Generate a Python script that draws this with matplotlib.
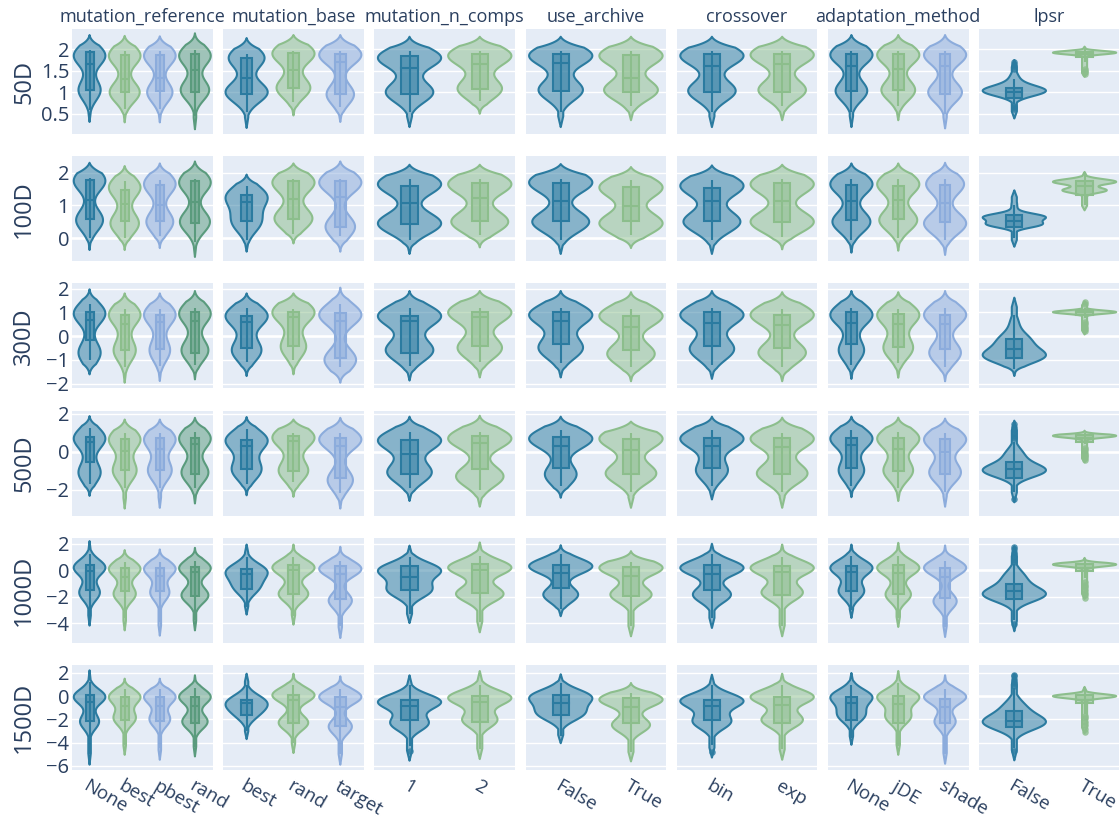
import numpy as np
import matplotlib
matplotlib.use("Agg")
import matplotlib.pyplot as plt
from matplotlib.patches import Polygon, Rectangle
from matplotlib.colors import to_rgba

DIMS = ["50D", "100D", "300D", "500D", "1000D", "1500D"]

# violin: (lo, whisker_lo, q1, median, q3, whisker_hi, hi, modes[, outliers])
# modes: (centre, relative height[, spread])
mutation_reference_levels = ["None", "best", "pbest", "rand"]
mutation_reference = [
    [(0.31, 0.58, 1.05, 1.65, 1.94, 1.98, 2.33, [(1.85, 1), (1.05, .7)]),
     (0.30, 0.62, 1.01, 1.31, 1.87, 1.95, 2.31, [(1.85, 1), (1.0, .95)]),
     (0.30, 0.62, 1.02, 1.32, 1.87, 1.95, 2.30, [(1.85, 1), (1.0, .8)]),
     (0.14, 0.45, 1.00, 1.52, 1.90, 1.98, 2.37, [(1.85, 1), (1.05, .9)])],
    [(-.36, 0.02, 0.60, 1.15, 1.77, 1.85, 2.30, [(1.75, 1), (.55, .85)]),
     (-.36, 0.00, 0.53, 1.03, 1.46, 1.75, 2.20, [(1.55, 1), (.45, .9)]),
     (-.30, 0.08, 0.53, 1.00, 1.61, 1.78, 2.28, [(1.65, 1), (.5, .85)]),
     (-.57, -.10, 0.45, 1.10, 1.73, 1.82, 2.34, [(1.7, 1), (.5, .95)])],
    [(-1.61, -1.0, -.18, .67, 1.01, 1.35, 1.97, [(.95, 1), (-.7, .7)]),
     (-1.96, -1.3, -.59, .50, 0.91, 1.15, 1.80, [(.9, 1), (-.6, .7)]),
     (-1.89, -1.25, -.53, .59, 0.91, 1.15, 1.80, [(.9, 1), (-.6, .65)]),
     (-1.82, -1.2, -.70, .63, 1.01, 1.20, 1.90, [(.95, 1), (-.6, .85)])],
    [(-2.33, -1.7, -.56, .49, .80, 1.25, 1.88, [(.7, 1), (-1.1, .7)]),
     (-3.00, -1.9, -.99, .05, .66, 1.00, 1.70, [(.65, 1), (-1.0, .75)]),
     (-2.96, -1.9, -.99, .14, .70, 1.00, 1.70, [(.65, 1), (-1.0, .75)]),
     (-2.73, -1.9, -1.17, .40, .75, 1.05, 1.79, [(.7, 1), (-1.1, .85)])],
    [(-4.19, -3.7, -1.46, -.08, .43, 1.2, 2.20, [(.2, 1), (-1.7, .65)]),
     (-4.55, -3.6, -1.59, -.50, .18, 0.6, 1.52, [(.1, 1), (-1.8, .7)]),
     (-4.95, -3.9, -1.59, -.45, .18, 0.6, 1.57, [(.1, 1), (-1.7, .6)]),
     (-4.55, -3.8, -1.92, -.15, .25, 0.7, 1.69, [(.15, 1), (-1.9, .85)])],
    [(-5.91, -5.0, -2.14, -.49, .09, 1.2, 2.23, [(-.06, 1), (-2.2, .6)]),
     (-5.06, -4.2, -2.06, -.83, -.06, .6, 1.51, [(-.06, 1), (-1.9, .7)]),
     (-5.49, -4.5, -2.11, -.83, -.06, .6, 1.51, [(-.06, 1), (-2.0, .65)]),
     (-5.20, -4.4, -2.34, -.83, -.06, .7, 1.80, [(-.06, 1), (-2.2, .8)])],
]

mutation_base_levels = ["best", "rand", "target"]
mutation_base = [
    [(0.17, 0.55, 0.97, 1.34, 1.80, 1.90, 2.26, [(1.8, .85), (1.0, 1)]),
     (0.46, 0.78, 1.09, 1.52, 1.92, 1.97, 2.33, [(1.9, 1), (1.1, .8)]),
     (0.31, 0.65, 0.95, 1.71, 1.90, 1.96, 2.33, [(1.87, 1), (.95, .65)])],
    [(-.41, -.05, .53, 1.10, 1.31, 1.58, 1.94, [(1.27, 1), (.5, .7)]),
     (-.16, 0.12, .60, 1.19, 1.73, 1.82, 2.28, [(1.7, 1), (.6, .9)]),
     (-.41, 0.06, .35, 1.26, 1.73, 1.82, 2.34, [(1.7, 1), (.35, .7)])],
    [(-1.68, -1.1, -.50, .60, .84, 1.20, 1.80, [(.85, 1), (-.6, .7)]),
     (-1.61, -1.0, -.43, .82, 1.01, 1.15, 1.80, [(1.0, 1), (-.45, .6)]),
     (-1.96, -1.3, -.94, .65, .97, 1.35, 2.04, [(.9, 1), (-1.0, .75)])],
    [(-2.30, -1.7, -.90, .28, .63, 1.2, 1.83, [(.6, 1), (-.95, .7)]),
     (-2.38, -1.6, -1.04, .57, .83, 1.0, 1.70, [(.75, 1), (-1.0, .7)]),
     (-3.00, -2.2, -1.39, .31, .75, 1.0, 1.79, [(.65, 1), (-1.5, .6)])],
    [(-3.36, -2.8, -1.41, -.25, .10, 1.0, 1.94, [(-.08, 1), (-1.3, .6)]),
     (-4.12, -3.5, -1.77, .05, .43, 1.0, 1.94, [(.2, 1), (-1.8, .7)]),
     (-5.13, -4.2, -2.17, -.25, .30, 0.7, 1.77, [(.1, 1), (-2.3, .55)])],
    [(-3.71, -3.0, -1.63, -.63, -.34, 1.0, 1.94, [(-.5, 1), (-1.5, .55)]),
     (-4.91, -4.0, -2.29, -.29, .09, 1.0, 1.94, [(.09, 1), (-2.29, .7)]),
     (-5.91, -5.0, -2.57, -.91, -.11, .6, 1.71, [(-.06, 1), (-2.63, .55)])],
]

mutation_n_comps_levels = ["1", "2"]
mutation_n_comps = [
    [(0.19, 0.55, 0.95, 1.57, 1.84, 1.95, 2.29, [(1.8, 1), (1.0, .75)]),
     (0.50, 0.80, 1.07, 1.65, 1.90, 1.95, 2.29, [(1.85, 1), (1.08, .7)])],
    [(-.48, -.05, .43, 1.06, 1.59, 1.82, 2.24, [(1.65, 1), (.45, 1)]),
     (-.28, 0.10, .53, 1.23, 1.68, 1.82, 2.24, [(1.65, 1), (.5, .9)])],
    [(-1.87, -1.25, -.73, .62, .83, 1.2, 1.9, [(.85, 1), (-.6, .75)]),
     (-1.74, -1.10, -.43, .80, 1.0, 1.2, 1.9, [(1.0, 1), (-.5, .7)])],
    [(-2.6, -1.9, -1.2, -.10, .60, 1.05, 1.85, [(.6, 1), (-1.1, .7)]),
     (-2.9, -2.0, -0.9, 0.45, .83, 1.05, 1.90, [(.7, 1), (-1.3, .75)])],
    [(-4.0, -3.3, -1.46, -.48, .28, 1.0, 1.86, [(0.0, 1), (-1.5, .7)]),
     (-4.7, -3.9, -1.70, 0.05, .50, 1.1, 2.10, [(.2, 1), (-1.8, .75)])],
    [(-5.57, -4.3, -2.06, -.86, -.29, 1.0, 1.80, [(-.49, 1), (-2.34, .6)], [-4.77]),
     (-5.43, -4.6, -2.20, -.49, 0.03, 1.0, 2.17, [(-.14, 1), (-2.06, .55)])],
]

use_archive_levels = ["False", "True"]
use_archive = [
    [(0.19, 0.55, 1.03, 1.67, 1.90, 1.95, 2.29, [(1.85, 1), (1.05, .7)]),
     (0.35, 0.68, 1.00, 1.32, 1.87, 1.95, 2.29, [(1.85, 1), (1.05, .85)])],
    [(-.48, -.05, .53, 1.14, 1.68, 1.82, 2.26, [(1.7, 1), (.5, .9)]),
     (-.30, 0.10, .53, 0.98, 1.56, 1.78, 2.17, [(1.55, 1), (.45, 1)])],
    [(-1.74, -1.15, -.35, .62, 1.0, 1.20, 1.90, [(.9, 1), (-.5, .7)]),
     (-1.90, -1.30, -.60, .37, .83, 1.15, 1.85, [(.85, 1), (-.75, .75)])],
    [(-2.43, -1.8, -.85, .30, .78, 1.15, 1.85, [(.69, 1), (-1.2, .5)]),
     (-2.96, -2.1, -1.15, .09, .69, 1.0, 1.59, [(.69, 1), (-1.15, .8)])],
    [(-3.48, -2.9, -1.34, -.20, .38, 1.2, 1.89, [(.3, 1), (-1.85, .55)]),
     (-5.00, -4.2, -1.97, -.45, .25, 0.6, 1.44, [(.18, 1), (-1.85, .65)])],
    [(-4.06, -3.4, -1.63, -.63, .09, 1.1, 1.89, [(-.06, 1), (-1.49, .75)]),
     (-5.63, -4.8, -2.34, -.91, -.20, 0.3, 1.14, [(-.29, 1), (-2.49, .6)])],
]

crossover_levels = ["bin", "exp"]
crossover = [
    [(0.19, 0.55, 1.00, 1.62, 1.90, 1.95, 2.29, [(1.85, 1), (1.03, .75)]),
     (0.35, 0.68, 1.01, 1.65, 1.90, 1.95, 2.29, [(1.87, 1), (1.05, .75)])],
    [(-.48, -.05, .53, 1.13, 1.54, 1.78, 2.22, [(1.6, 1), (.5, .9)]),
     (-.34, 0.05, .50, 1.14, 1.68, 1.82, 2.24, [(1.65, 1), (.5, 1)])],
    [(-1.8, -1.2, -.40, .55, 1.0, 1.20, 1.90, [(.9, 1), (-.55, .7)]),
     (-1.9, -1.3, -.50, .45, 0.9, 1.15, 1.85, [(.9, 1), (-.7, .75)])],
    [(-2.52, -1.8, -.85, .30, .74, 1.15, 1.85, [(.69, 1), (-1.0, .5)]),
     (-2.96, -2.1, -1.15, .25, .71, 1.0, 1.80, [(.69, 1), (-1.15, .8)])],
    [(-4.37, -3.6, -1.52, -.28, .38, 1.2, 2.00, [(.18, 1), (-1.85, .6)]),
     (-5.00, -4.2, -1.84, -.15, .30, 1.0, 1.94, [(.18, 1), (-1.7, .65)])],
    [(-5.30, -4.2, -2.06, -.86, -.29, 1.0, 1.85, [(-.4, 1), (-2.2, .6)], [-4.8]),
     (-5.49, -4.6, -2.29, -.77, -.06, 1.0, 1.94, [(-.06, 1), (-2.06, .65)])],
]

adaptation_method_levels = ["None", "jDE", "shade"]
adaptation_method = [
    [(0.19, 0.55, 1.03, 1.61, 1.89, 1.95, 2.33, [(1.87, 1), (1.03, .75)]),
     (0.35, 0.68, 1.06, 1.55, 1.90, 1.95, 2.33, [(1.87, 1), (1.05, .8)]),
     (0.16, 0.50, 0.97, 1.60, 1.90, 1.95, 2.33, [(1.87, 1), (1.0, .8)])],
    [(-.44, -.05, .55, 1.14, 1.61, 1.8, 2.28, [(1.65, 1), (.5, .9)]),
     (-.38, 0.00, .60, 1.16, 1.59, 1.8, 2.28, [(1.65, 1), (.55, .9)]),
     (-.51, -.05, .50, 1.06, 1.61, 1.8, 2.30, [(1.65, .9), (.45, 1)])],
    [(-1.80, -1.2, -.35, .55, 1.0, 1.20, 1.90, [(.9, 1), (-.6, .6)]),
     (-1.75, -1.15, -.45, .50, .95, 1.15, 1.85, [(.9, 1), (-.5, .7)]),
     (-1.90, -1.3, -.55, .50, .90, 1.20, 1.90, [(.9, 1), (-.7, .75)])],
    [(-2.4, -1.8, -.85, .35, .75, 1.15, 1.85, [(.7, 1), (-1.0, .6)]),
     (-2.6, -1.9, -1.0, .15, .70, 1.05, 1.80, [(.7, 1), (-1.0, .7)]),
     (-2.9, -2.1, -1.2, .00, .65, 1.00, 1.75, [(.65, 1), (-1.1, .75)])],
    [(-3.61, -3.0, -1.59, -.13, .35, 1.1, 1.94, [(.18, 1), (-1.6, .6)]),
     (-4.29, -3.6, -1.77, -.20, .43, 1.1, 2.07, [(.18, 1), (-1.84, .6)]),
     (-5.05, -4.3, -2.10, -.50, .18, 0.7, 1.87, [(.18, 1), (-2.35, .55)])],
    [(-4.20, -3.6, -2.06, -.63, -.06, 1.0, 2.00, [(-.06, 1), (-1.63, .65)]),
     (-5.06, -4.3, -2.29, -.69, 0.03, 1.1, 2.17, [(-.06, 1), (-1.77, .6)]),
     (-5.83, -5.0, -2.34, -.91, -.26, 0.6, 1.80, [(-.06, 1), (-2.2, .5)])],
]

lpsr_levels = ["False", "True"]
lpsr = [
    [(0.39, 0.72, 0.87, 1.00, 1.11, 1.30, 1.75, [(1.03, 1, .12), (1.3, .15, .15)],
      [.62, .65, .68, 1.55, 1.6, 1.65, 1.7]),
     (1.36, 1.70, 1.83, 1.90, 1.94, 2.00, 2.06, [(1.92, 1, .04)],
      [1.42, 1.46, 1.5, 1.55])],
    [(-.26, 0.00, 0.33, 0.53, 0.72, 1.00, 1.46, [(.65, 1, .1), (.42, .9, .1), (1.0, .1, .2)]),
     (0.85, 1.00, 1.31, 1.59, 1.74, 1.95, 2.02, [(1.72, 1, .08), (1.46, .7, .08)])],
    [(-1.68, -1.4, -.91, -.53, -.14, .9, 1.62, [(-.85, 1, .3), (-.2, .55, .35), (.6, .12, .3)]),
     (0.07, 0.75, 0.90, 1.00, 1.10, 1.2, 1.47, [(1.01, 1, .07)],
      [.2, .3, .4, .5, .6, 1.35, 1.45])],
    [(-2.67, -2.1, -1.40, -.91, -.53, .5, 1.64, [(-1.0, 1, .35), (-.2, .3, .4)],
      [.7, .85, 1.0, 1.15, 1.3, 1.45, -2.5]),
     (-.56, 0.40, 0.50, 0.70, 0.90, 1.0, 1.11, [(.84, 1, .1)],
      [-.45, -.35, -.25, -.15, -.05, .1, .2])],
    [(-4.62, -3.8, -2.17, -1.59, -1.01, .5, 1.82, [(-1.84, 1, .55), (-.6, .35, .6)],
      [.6, .8, 1.0, 1.2, 1.4, 1.6, 1.75, -4.1]),
     (-2.17, -0.6, -0.08, 0.18, 0.50, .8, 0.93, [(.43, 1, .15)],
      [-2.1, -1.9, -1.7, -1.5, -1.3, -1.1, -.9])],
    [(-5.54, -4.5, -2.63, -2.11, -1.26, .7, 1.89, [(-2.29, 1, .65), (-1.0, .35, .7)],
      [.9, 1.1, 1.3, 1.5, 1.7, 1.85, -4.77]),
     (-3.20, -1.5, -0.63, -0.29, 0.09, .6, 0.80, [(0.0, 1, .18)],
      [-3.1, -2.8, -2.5, -2.2, -1.9, -1.7])],
]

FACTORS = [
    ("mutation_reference", mutation_reference_levels, mutation_reference),
    ("mutation_base", mutation_base_levels, mutation_base),
    ("mutation_n_comps", mutation_n_comps_levels, mutation_n_comps),
    ("use_archive", use_archive_levels, use_archive),
    ("crossover", crossover_levels, crossover),
    ("adaptation_method", adaptation_method_levels, adaptation_method),
    ("lpsr", lpsr_levels, lpsr),
]

Y_RANGES = [(0.03, 2.47), (-0.70, 2.5), (-2.2, 2.22), (-3.37, 2.17), (-5.49, 2.45), (-6.37, 2.69)]
Y_TICKS = [[0.5, 1, 1.5, 2], [0, 1, 2], [-2, -1, 0, 1, 2], [-2, 0, 2], [-4, -2, 0, 2], [-6, -4, -2, 0, 2]]
BANDWIDTH = [0.24, 0.33, 0.46, 0.55, 0.6, 0.65]

COLORS = ["#2B7BA0", "#8CBE8C", "#8CACDC", "#5A9B7D"]
BG = "#E5ECF6"
TXT = "#2a3f5f"
FONT = ["Open Sans", "DejaVu Sans"]

W, H = 1119, 821
COL_LEFT, COL_STEP, COL_W = 72, 151.2, 140.5
ROW_TOP, ROW_STEP, ROW_H = 29, 127.2, 105

HALF = 0.45      # max half width of a violin, in category units
BOX_HALF = 0.115


def violin_profile(v, bw):
    lo, hi, modes = v[0], v[6], v[7]
    y = np.linspace(lo, hi, 300)
    d = np.zeros_like(y)
    for m in modes:
        s = m[2] if len(m) > 2 else bw
        d += m[1] * np.exp(-0.5 * ((y - m[0]) / s) ** 2)
    d /= d.max()
    t = 0.12 * (hi - lo)
    ramp = np.clip((y - lo) / t, 0, 1) * np.clip((hi - y) / t, 0, 1)
    return y, np.maximum(d, 0.08) * ramp


def draw_violin(ax, x, v, color, bw):
    lo, wlo, q1, med, q3, whi, hi = v[:7]
    y, d = violin_profile(v, bw)
    xs = np.concatenate([x - d * HALF, (x + d * HALF)[::-1]])
    ys = np.concatenate([y, y[::-1]])
    ax.add_patch(Polygon(np.column_stack([xs, ys]), closed=True,
                         facecolor=to_rgba(color, 0.5), edgecolor=color,
                         lw=1.5, joinstyle="round", zorder=2))
    ax.plot([x, x], [wlo, whi], color=color, lw=1.5, solid_capstyle="butt", zorder=3)
    ax.add_patch(Rectangle((x - BOX_HALF, q1), 2 * BOX_HALF, q3 - q1,
                           facecolor=to_rgba(color, 0.5), edgecolor=color, lw=1.5, zorder=4))
    ax.plot([x - BOX_HALF, x + BOX_HALF], [med, med], color=color, lw=1.5, zorder=5)
    if len(v) > 8:
        pts = v[8]
        ax.scatter([x] * len(pts), pts, s=22, color=color, alpha=0.8, lw=0, zorder=5)


def fmt(t):
    return f"{t:g}".replace("-", "\u2212")


fig = plt.figure(figsize=(W / 100, H / 100), dpi=100)
plt.rcParams["font.family"] = FONT

for r, dim in enumerate(DIMS):
    top = ROW_TOP + r * ROW_STEP
    for c, (name, levels, rows) in enumerate(FACTORS):
        left = COL_LEFT + c * COL_STEP
        ax = fig.add_axes([left / W, 1 - (top + ROW_H) / H, COL_W / W, ROW_H / H])
        ax.set_facecolor(BG)
        for s in ax.spines.values():
            s.set_visible(False)
        n = len(levels)
        ax.set_xlim(-0.5, n - 0.5)
        ax.set_ylim(*Y_RANGES[r])
        for t in Y_TICKS[r]:
            ax.axhline(t, color="white", lw=1.9 if t == 0 else 1.0, zorder=1)
        for i, v in enumerate(rows[r]):
            draw_violin(ax, i, v, COLORS[i], BANDWIDTH[r])
        ax.tick_params(length=0, colors=TXT)
        ax.set_yticks(Y_TICKS[r])
        if c == 0:
            ax.set_yticklabels([fmt(t) for t in Y_TICKS[r]], fontsize=14.5, color=TXT)
            ax.tick_params(axis="y", pad=2)
        else:
            ax.set_yticklabels([])
        ax.set_xticks(range(n))
        if r == len(DIMS) - 1:
            ax.set_xticklabels(levels, rotation=-30, ha="left", va="top",
                               rotation_mode="anchor", fontsize=13.5, color=TXT)
            ax.tick_params(axis="x", pad=5)
            for lab in ax.get_xticklabels():
                lab.set_x(lab.get_position()[0] - 0.06)
        else:
            ax.set_xticklabels([])
        if r == 0:
            fig.text((left + COL_W / 2) / W, 1 - 17 / H, name, ha="center", va="center",
                     fontsize=13, color=TXT)
    fig.text(24 / W, 1 - (top + ROW_H / 2) / H, dim, rotation=90, ha="center",
             va="center", fontsize=17, color=TXT)

fig.savefig("out.png", dpi=100, facecolor="white")
